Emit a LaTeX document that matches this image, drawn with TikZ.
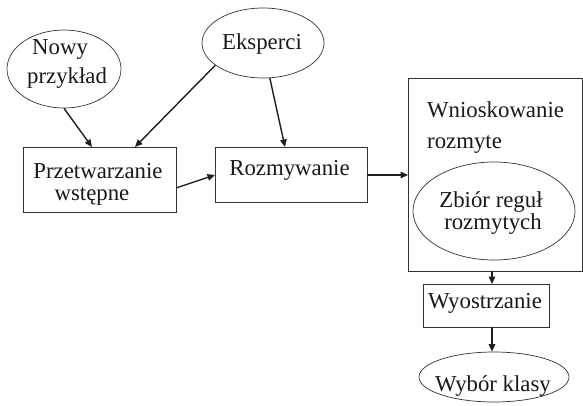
\documentclass[tikz,border=0pt]{standalone}
\usepackage{fontspec}
\setmainfont{Liberation Serif}
\usetikzlibrary{arrows.meta,shapes.geometric}
\begin{document}
\begin{tikzpicture}[x=1pt,y=-1pt,
  every node/.style={font=\fontsize{22.8}{25}\selectfont, text=black!90},
  boxnode/.style={draw=black!80, line width=0.8pt, rectangle, inner sep=0pt},
  ovalnode/.style={draw=black!80, line width=0.7pt, ellipse, inner sep=0pt},
  txt/.style={inner sep=0pt, anchor=base},
  flow/.style={draw=black!88, line width=1.4pt, -{Triangle[length=7.5pt,width=6.5pt]}}]
  \useasboundingbox[fill=white] (0,0) rectangle (583,405);

  % input ellipses
  \node[ovalnode, minimum width=114pt, minimum height=78pt] (nowy) at (64,69) {};
  \node[txt, anchor=base west] (nowyA) at (32,54) {Nowy};
  \node[txt, anchor=base west] (nowyB) at (27,83) {przykład};

  \node[ovalnode, minimum width=122pt, minimum height=70pt] (eks) at (263,43) {};
  \node[txt] (eksT) at (262,49) {Eksperci};

  % processing boxes
  \node[boxnode, minimum width=153pt, minimum height=65pt] (pw) at (99.5,179.5) {};
  \node[txt] (pwA) at (98,178) {Przetwarzanie};
  \node[txt] (pwB) at (92,200) {wstępne};

  \node[boxnode, minimum width=152pt, minimum height=55pt] (rz) at (291,174.5) {};
  \node[txt] (rzT) at (289.5,175) {Rozmywanie};

  \node[boxnode, minimum width=174pt, minimum height=193pt] (wn) at (495,174.5) {};
  \node[txt, anchor=base west] (wnA) at (427,117) {Wnioskowanie};
  \node[txt, anchor=base west] (wnB) at (427,148) {rozmyte};

  \node[ovalnode, minimum width=162pt, minimum height=98pt] (zb) at (494,211) {};
  \node[txt] (zbA) at (491,207) {Zbiór reguł};
  \node[txt] (zbB) at (493,229) {rozmytych};

  \node[boxnode, minimum width=126pt, minimum height=43pt] (wy) at (486,305.5) {};
  \node[txt] (wyT) at (485,308) {Wyostrzanie};

  \node[ovalnode, minimum width=150pt, minimum height=50pt] (wb) at (494,377) {};
  \node[txt] (wbT) at (493,391) {Wybór klasy};

  % arrow targets on box edges
  \coordinate (pwin1) at (92,147);
  \coordinate (pwin2) at (135,147);
  \coordinate (rzin1) at (285,147);
  \coordinate (pwout) at (176,188);
  \coordinate (rzin2) at (215,175);
  \coordinate (rzout) at (367,175);
  \coordinate (wnin) at (408,175);
  \coordinate (wnout) at (492,271);
  \coordinate (wyin) at (492,284);
  \coordinate (wyout) at (492,327);

  \draw[flow] (nowy.south) -- (pwin1);
  \draw[flow] (eks.205) -- (pwin2);
  \draw[flow] (eks.281) -- (rzin1);
  \draw[flow] (pwout) -- (rzin2);
  \draw[flow] (rzout) -- (wnin);
  \draw[flow] (wnout) -- (wyin);
  \draw[flow] (wyout) -- (wyout |- wb.north);
\end{tikzpicture}
\end{document}
